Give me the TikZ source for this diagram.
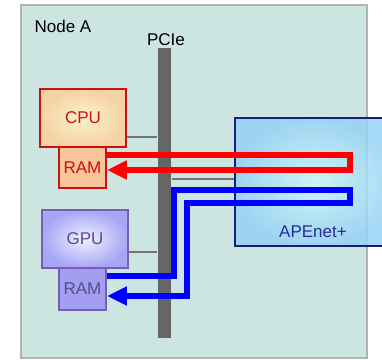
\documentclass[tikz,border=0pt]{standalone}
\usepackage{fontspec}
\setmainfont{Liberation Sans}
\usetikzlibrary{arrows.meta}
\begin{document}
\begin{tikzpicture}[
			x=0.5pt, y=-0.5pt, line width=1pt,
			font=\fontsize{8.5}{10}\selectfont,
			scatola/.style={draw=gray!60, fill=nodoBg, line width=1pt},
			bus/.style={fill=black!60, draw=none, inner sep=0pt,
				minimum width=6.5pt, minimum height=145pt},
			blocco/.style={inner sep=0pt, line width=1pt},
			cpuB/.style={blocco, draw=cpuRim, inner color=cpuIn,
				outer color=cpuOut, text=cpuRim,
				minimum width=43pt, minimum height=29pt},
			ramC/.style={blocco, draw=cpuRim, fill=ramCfill, text=cpuRim,
				minimum width=23.5pt, minimum height=20.5pt},
			gpuB/.style={blocco, draw=gpuRim, inner color=gpuIn,
				outer color=gpuOut, text=gpuTxt,
				minimum width=43pt, minimum height=29pt},
			ramG/.style={blocco, draw=gpuRim, fill=ramGfill, text=gpuTxt,
				minimum width=23.5pt, minimum height=21pt},
			scheda/.style={blocco, draw=apeRim, inner color=apeIn,
				outer color=apeOut, fill opacity=0.85,
				minimum width=80pt, minimum height=64pt},
			link/.style={draw=black!55, line width=1pt},
			flusso/.style={line width=3.2pt, line join=miter,
				-{Triangle[length=10pt,width=9pt]}}]
			\definecolor{nodoBg}{HTML}{CDE5E0}
			\definecolor{cpuRim}{HTML}{CC1111}
			\definecolor{cpuIn}{HTML}{FAF3CC}
			\definecolor{cpuOut}{HTML}{F5D2A3}
			\definecolor{ramCfill}{HTML}{F9C49A}
			\definecolor{gpuRim}{HTML}{7A5CB5}
			\definecolor{gpuIn}{HTML}{F0F0FF}
			\definecolor{gpuOut}{HTML}{A6A6F6}
			\definecolor{gpuTxt}{HTML}{5B4A8C}
			\definecolor{ramGfill}{HTML}{A29EF2}
			\definecolor{apeRim}{HTML}{1A1A80}
			\definecolor{apeIn}{HTML}{CCF7FB}
			\definecolor{apeOut}{HTML}{96D2F5}
			\definecolor{apeTxt}{HTML}{2A2A9A}
			\def\xR{350}
			
			\useasboundingbox (0,0) rectangle (382,360);
			
			%% nodo A
			\draw[scatola] (21,5) rectangle (367,358);
			\node (nodeLbl) at (63,26) {Node A};
			
			%% bus PCIe
			\node[bus] (pcie) at (164.5,193) {};
			\node (pcieLbl) at (166,40) {PCIe};
			
			%% CPU e GPU con le loro RAM
			\node[cpuB] (cpu) at (83,118) {CPU};
			\node[ramC] (ramCpu) at (82.5,167.5) {RAM};
			\node[gpuB] (gpu) at (85,239) {GPU};
			\node[ramG] (ramGpu) at (82.5,289) {RAM};
			
			%% collegamenti al bus
			\draw[link] (cpu.east |- 0,137) -- (pcie.west |- 0,137);
			\draw[link] (gpu.east |- 0,252) -- (pcie.west |- 0,252);
			
			%% scheda APEnet+
			\node[scheda] (ape) at (315,182) {};
			\node[text=apeTxt] (apeLbl) at (313,232) {APEnet+};
			\draw[link] (pcie.east |- 0,179) -- (ape.west |- 0,179);
			
			%% percorso dati verso la RAM della CPU
			\draw[flusso, red] (ramCpu.east |- 0,155) -- (\xR,155)
				-- (\xR,170) -- (ramCpu.east |- 0,170);
			
			%% percorso dati verso la RAM della GPU
			\draw[flusso, blue] (ramGpu.east |- 0,276) -- (174,276)
				-- (174,190) -- (\xR,190) -- (\xR,203) -- (187,203)
				-- (187,296) -- (ramGpu.east |- 0,296);
		\end{tikzpicture}
\end{document}
